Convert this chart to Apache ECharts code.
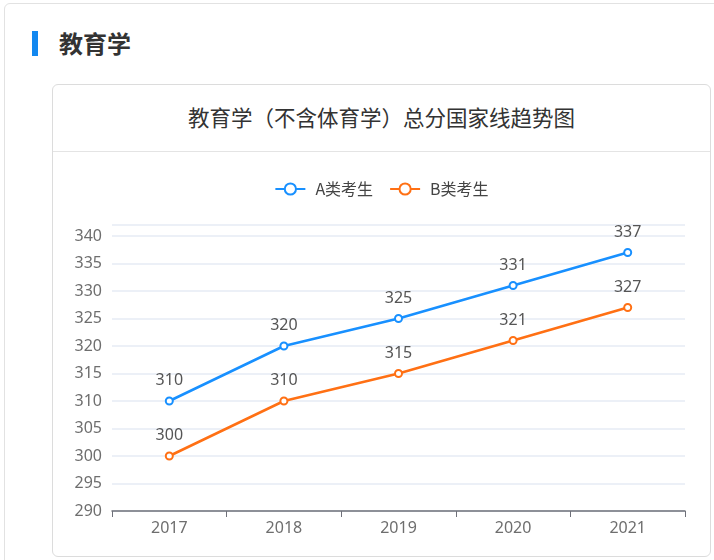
<!DOCTYPE html>
<html><head><meta charset="utf-8">
<script src="https://cdn.jsdelivr.net/npm/echarts@6/dist/echarts.min.js"></script>
<style>
html,body{margin:0;padding:0;background:#fff;font-family:"Noto Sans CJK SC","Noto Sans",sans-serif;}
#outer{position:absolute;left:4px;top:3px;width:740px;height:600px;border:1px solid #e2e2e2;border-radius:6px;}
#bar{position:absolute;left:32px;top:31px;width:6px;height:25px;background:#1388f0;}
#head{position:absolute;left:59px;top:26px;font-size:24px;font-weight:bold;color:#333;line-height:34px;}
#card{position:absolute;left:52px;top:84px;width:657px;height:471px;border:1px solid #dcdcdc;border-radius:6px;background:#fff;}
#ctitle{position:absolute;left:0;top:0;width:657px;height:66px;line-height:63px;text-align:center;font-size:21.5px;color:#333;border-bottom:1px solid #e4e4e4;}
#chart{position:absolute;left:53px;top:152px;width:657px;height:403px;}
</style></head>
<body>
<div id="outer"></div>
<div id="bar"></div>
<div id="head">教育学</div>
<div id="card"><div id="ctitle">教育学（不含体育学）总分国家线趋势图</div></div>
<div id="chart"></div>
<script>
var years = ['2017','2018','2019','2020','2021'];
var seriesNames = ['A类考生','B类考生'];
var aValues = [310, 320, 325, 331, 337];
var bValues = [300, 310, 315, 321, 327];
var colors = ['#1890ff','#ff7014'];
var chart = echarts.init(document.getElementById('chart'));
var lblFont = 'Noto Sans';
chart.setOption({
  animation:false,
  color: colors,
  legend:{
    top:24, left:'center',
    data: seriesNames,
    itemWidth:30, itemHeight:14, itemGap:16,
    textStyle:{fontSize:16,color:'#444',fontFamily:'Noto Sans CJK SC',padding:[0,0,0,5]}
  },
  grid:{left:59, right:25, top:73, bottom:44},
  xAxis:{
    type:'category', data: years, boundaryGap:true,
    axisLine:{lineStyle:{color:'#6e7079',width:1.5}},
    axisTick:{show:true,length:6,lineStyle:{color:'#6e7079'}},
    axisLabel:{fontSize:16,color:'#6e6e6e',margin:9,fontFamily:lblFont}
  },
  yAxis:{
    type:'value', min:290, max:342, interval:5,
    axisLine:{show:false}, axisTick:{show:false},
    splitLine:{lineStyle:{color:'#e6ebf5',width:1.5}},
    axisLabel:{fontSize:16,color:'#6e6e6e',margin:10,fontFamily:lblFont,showMaxLabel:false}
  },
  series:[
    {name:seriesNames[0], type:'line', data:aValues, symbol:'emptyCircle', symbolSize:7,
     lineStyle:{width:2.5}, itemStyle:{borderWidth:2},
     label:{show:true,position:'top',distance:8,fontSize:16,color:'#555',fontFamily:lblFont}},
    {name:seriesNames[1], type:'line', data:bValues, symbol:'emptyCircle', symbolSize:7,
     lineStyle:{width:2.5}, itemStyle:{borderWidth:2},
     label:{show:true,position:'top',distance:8,fontSize:16,color:'#555',fontFamily:lblFont}}
  ]
});
</script>
</body></html>
